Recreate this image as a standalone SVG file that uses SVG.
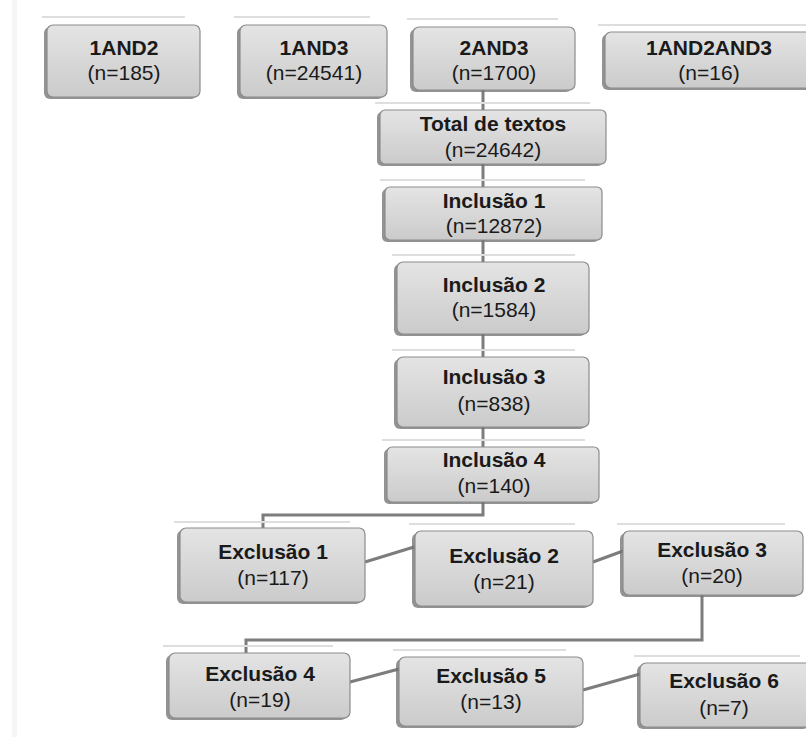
<svg xmlns="http://www.w3.org/2000/svg" width="806" height="737" viewBox="0 0 806 737">
<defs>
<linearGradient id="g" x1="0" y1="0" x2="0" y2="1">
<stop offset="0" stop-color="#e4e4e4"/>
<stop offset="1" stop-color="#cbcbcb"/>
</linearGradient>
<style>
.sh{fill:#6f6f6f;opacity:.75}
.bx{fill:url(#g);stroke:#8c8c8c;stroke-width:1.2}
.gh{stroke:#dedede;stroke-width:2;fill:none}
.t1{font-family:"Liberation Sans",Arial,sans-serif;font-weight:bold;font-size:21px;fill:#1a1a1a;text-anchor:middle}
.t2{font-family:"Liberation Sans",Arial,sans-serif;font-weight:normal;font-size:21px;fill:#1a1a1a;text-anchor:middle}
.cn{stroke:#7d7d7d;stroke-width:3;fill:none}
</style>
</defs>
<rect width="806" height="737" fill="#ffffff"/>
<rect x="12" y="0" width="5" height="737" fill="#f6f6f6"/>

<g id="connectors">
<path class="cn" d="M483,90 V110"/>
<path class="cn" d="M483,164 V187"/>
<path class="cn" d="M483,240 V262"/>
<path class="cn" d="M483,334 V357"/>
<path class="cn" d="M483,427 V447"/>
<path class="cn" d="M483,502 V515 H263 V528"/>
<path class="cn" d="M365,562 L414,547"/>
<path class="cn" d="M593,562 L623,551"/>
<path class="cn" d="M702,595 V640 H246 V653"/>
<path class="cn" d="M350,682 L399,669"/>
<path class="cn" d="M583,690 L640,674"/>
</g>

<g id="n1and2">
<path class="gh" d="M42,17 H185"/>
<rect class="sh" x="44" y="27" width="153" height="72" rx="6"/>
<rect class="bx" x="47" y="25" width="153" height="72" rx="6"/>
<text class="t1" x="124" y="55">1AND2</text>
<text class="t2" x="124" y="80">(n=185)</text>
</g>

<g id="n1and3">
<path class="gh" d="M234,17 H370"/>
<rect class="sh" x="237" y="27" width="147" height="72" rx="6"/>
<rect class="bx" x="240" y="25" width="147" height="72" rx="6"/>
<text class="t1" x="314" y="55">1AND3</text>
<text class="t2" x="314" y="80">(n=24541)</text>
</g>

<g id="n2and3">
<path class="gh" d="M407,19 H558"/>
<rect class="sh" x="410" y="29" width="162" height="63" rx="6"/>
<rect class="bx" x="413" y="27" width="162" height="63" rx="6"/>
<text class="t1" x="494" y="55">2AND3</text>
<text class="t2" x="494" y="80">(n=1700)</text>
</g>

<g id="n1and2and3">
<path class="gh" d="M598,25 H806"/>
<rect class="sh" x="602" y="34" width="210" height="56" rx="6"/>
<rect class="bx" x="605" y="32" width="210" height="56" rx="6"/>
<text class="t1" x="709" y="55">1AND2AND3</text>
<text class="t2" x="709" y="80">(n=16)</text>
</g>

<g id="total">
<path class="gh" d="M375,103 H590"/>
<rect class="sh" x="377" y="112" width="226" height="54" rx="5"/>
<rect class="bx" x="380" y="110" width="226" height="54" rx="5"/>
<text class="t1" x="493" y="131">Total de textos</text>
<text class="t2" x="493" y="157">(n=24642)</text>
</g>

<g id="inclusao1">
<path class="gh" d="M380,180 H585"/>
<rect class="sh" x="382" y="189" width="217" height="53" rx="5"/>
<rect class="bx" x="385" y="187" width="217" height="53" rx="5"/>
<text class="t1" x="494" y="208">Inclusão 1</text>
<text class="t2" x="494" y="233">(n=12872)</text>
</g>

<g id="inclusao2">
<path class="gh" d="M392,255 H575"/>
<rect class="sh" x="394" y="264" width="192" height="72" rx="6"/>
<rect class="bx" x="397" y="262" width="192" height="72" rx="6"/>
<text class="t1" x="494" y="292">Inclusão 2</text>
<text class="t2" x="494" y="317">(n=1584)</text>
</g>

<g id="inclusao3">
<path class="gh" d="M392,350 H575"/>
<rect class="sh" x="394" y="359" width="192" height="70" rx="6"/>
<rect class="bx" x="397" y="357" width="192" height="70" rx="6"/>
<text class="t1" x="494" y="384">Inclusão 3</text>
<text class="t2" x="494" y="411">(n=838)</text>
</g>

<g id="inclusao4">
<path class="gh" d="M382,440 H585"/>
<rect class="sh" x="384" y="449" width="212" height="55" rx="5"/>
<rect class="bx" x="387" y="447" width="212" height="55" rx="5"/>
<text class="t1" x="494" y="467">Inclusão 4</text>
<text class="t2" x="494" y="493">(n=140)</text>
</g>

<g id="exclusao1">
<path class="gh" d="M174,522 H350"/>
<rect class="sh" x="177" y="530" width="185" height="74" rx="6"/>
<rect class="bx" x="180" y="528" width="185" height="74" rx="6"/>
<text class="t1" x="273" y="559">Exclusão 1</text>
<text class="t2" x="273" y="585">(n=117)</text>
</g>

<g id="exclusao2">
<path class="gh" d="M409,524 H575"/>
<rect class="sh" x="412" y="533" width="178" height="75" rx="6"/>
<rect class="bx" x="415" y="531" width="178" height="75" rx="6"/>
<text class="t1" x="504" y="563">Exclusão 2</text>
<text class="t2" x="504" y="589">(n=21)</text>
</g>

<g id="exclusao3">
<path class="gh" d="M617,524 H785"/>
<rect class="sh" x="620" y="533" width="180" height="64" rx="6"/>
<rect class="bx" x="623" y="531" width="180" height="64" rx="6"/>
<text class="t1" x="712" y="557">Exclusão 3</text>
<text class="t2" x="712" y="583">(n=20)</text>
</g>

<g id="exclusao4">
<path class="gh" d="M163,646 H333"/>
<rect class="sh" x="166" y="655" width="181" height="65" rx="6"/>
<rect class="bx" x="169" y="653" width="181" height="65" rx="6"/>
<text class="t1" x="260" y="681">Exclusão 4</text>
<text class="t2" x="260" y="707">(n=19)</text>
</g>

<g id="exclusao5">
<path class="gh" d="M393,650 H566"/>
<rect class="sh" x="396" y="659" width="184" height="69" rx="6"/>
<rect class="bx" x="399" y="657" width="184" height="69" rx="6"/>
<text class="t1" x="491" y="683">Exclusão 5</text>
<text class="t2" x="491" y="709">(n=13)</text>
</g>

<g id="exclusao6">
<path class="gh" d="M634,656 H800"/>
<rect class="sh" x="637" y="665" width="172" height="64" rx="6"/>
<rect class="bx" x="640" y="663" width="172" height="64" rx="6"/>
<text class="t1" x="724" y="688">Exclusão 6</text>
<text class="t2" x="724" y="715">(n=7)</text>
</g>
</svg>
